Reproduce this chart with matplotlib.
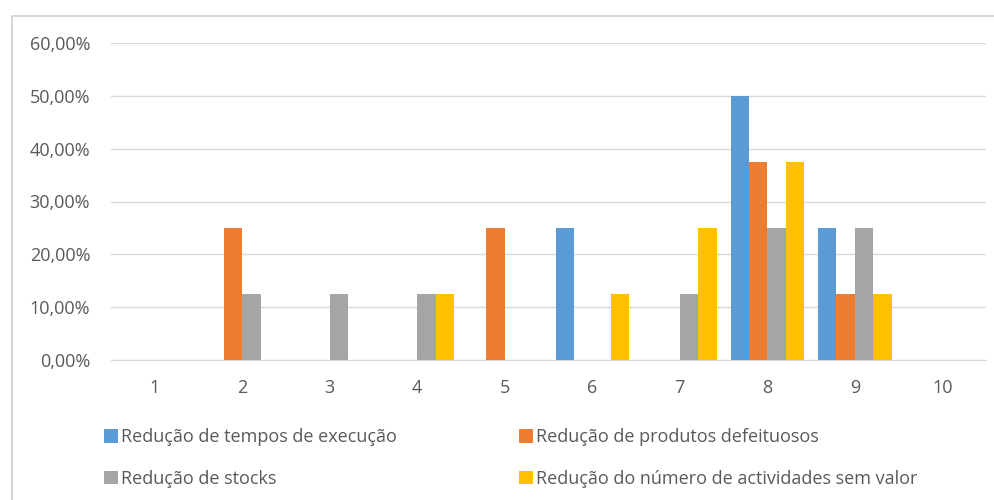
"""distribuição das reduções por nível (1-10)"""
import numpy as np
import matplotlib
matplotlib.use('Agg')
import matplotlib.pyplot as plt
from matplotlib.patches import Patch, Rectangle
from matplotlib.ticker import FuncFormatter

plt.rcParams['font.family'] = ['Open Sans', 'DejaVu Sans']

niveis = ['1', '2', '3', '4', '5', '6', '7', '8', '9', '10']
series_nomes = ['Redução de tempos de execução',
                'Redução de produtos defeituosos',
                'Redução de stocks',
                'Redução do número de actividades sem valor']
tempos = [0, 0, 0, 0, 0, 0.25, 0, 0.50, 0.25, 0]
defeituosos = [0, 0.25, 0, 0, 0.25, 0, 0, 0.375, 0.125, 0]
stocks = [0, 0.125, 0.125, 0.125, 0, 0, 0.125, 0.25, 0.25, 0]
sem_valor = [0, 0, 0, 0.125, 0, 0.125, 0.25, 0.375, 0.125, 0]
cores = ['#5B9BD5', '#ED7D31', '#A5A5A5', '#FFC000']

fig = plt.figure(figsize=(9.94, 5.0), dpi=100)
ax = fig.add_axes([111 / 994, 140 / 500, 875 / 994, 317 / 500])

# moldura do gráfico
fig.patches.append(Rectangle((12 / 994, -0.1), 1.0, 1.1 - 16 / 500,
                             transform=fig.transFigure, fill=False,
                             edgecolor='#D0D0D0', linewidth=1.2))

x = np.arange(len(niveis))
w = 0.21
valores = [tempos, defeituosos, stocks, sem_valor]
for i, (vals, cor) in enumerate(zip(valores, cores)):
    ax.bar(x + (i - 1.5) * w, vals, width=w, color=cor, zorder=3)

fs = 13
ax.set_xlim(-0.5, len(niveis) - 0.5)
ax.set_ylim(0, 0.6)
ax.set_yticks(np.arange(0, 0.61, 0.1))
ax.yaxis.set_major_formatter(FuncFormatter(lambda v, p: f'{v * 100:.2f}%'.replace('.', ',')))
ax.set_xticks(x)
ax.set_xticklabels(niveis)
ax.grid(axis='y', color='#D9D9D9', linewidth=1.0, zorder=0)
for s in ['top', 'right', 'left']:
    ax.spines[s].set_visible(False)
ax.spines['bottom'].set_color('#D9D9D9')
ax.tick_params(length=0, labelsize=fs, labelcolor='#595959')
ax.tick_params(axis='x', pad=14)
ax.tick_params(axis='y', pad=15)

handles = [Patch(facecolor=c) for c in cores]
ordem = [0, 2, 1, 3]
fig.legend([handles[k] for k in ordem], [series_nomes[k] for k in ordem],
           ncol=2, loc='upper left', bbox_to_anchor=(88 / 994, 1 - 412 / 500),
           frameon=False, fontsize=fs, labelcolor='#595959',
           handlelength=0.75, handleheight=0.75, handletextpad=0.2,
           columnspacing=6.75, labelspacing=1.3)

fig.savefig('out.png', dpi=100, facecolor='white')
